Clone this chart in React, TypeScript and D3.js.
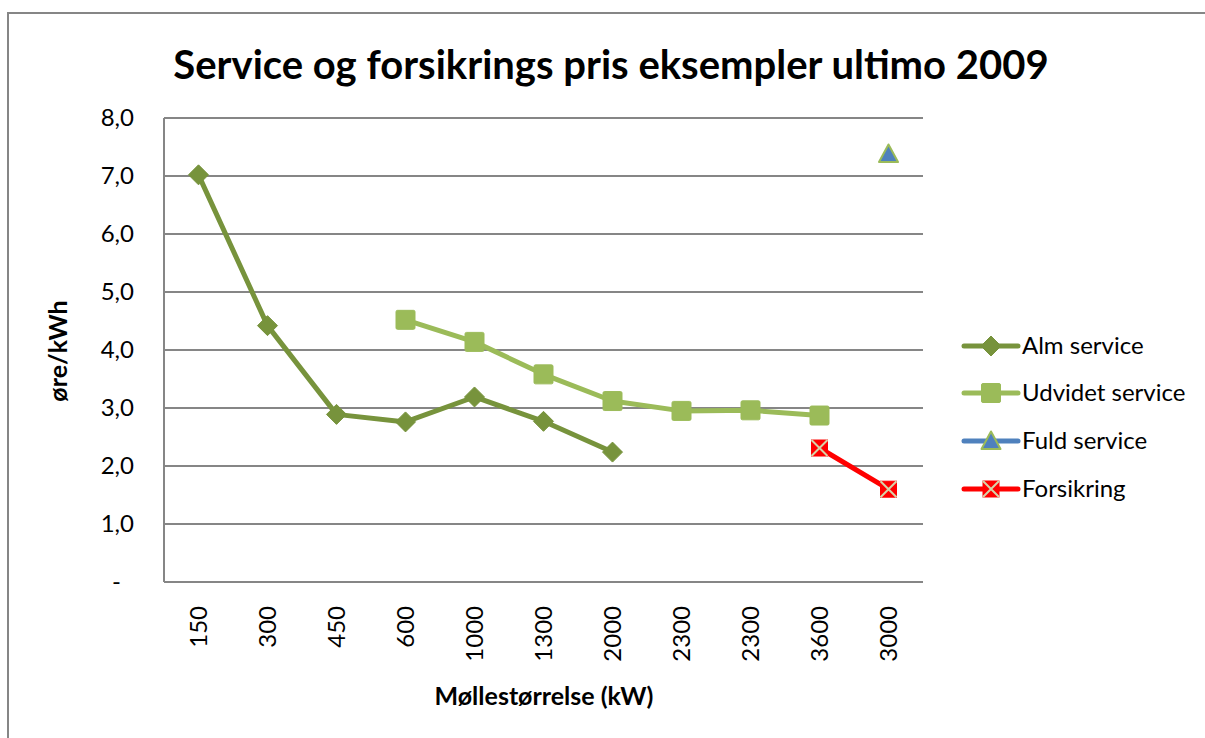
import React from "react";
import * as d3 from "d3";

const categories = ["150", "300", "450", "600", "1000", "1300", "2000", "2300", "2300b", "3600", "3000"];
const categoryLabels = ["150", "300", "450", "600", "1000", "1300", "2000", "2300", "2300", "3600", "3000"];
const almService: (number | null)[] = [7.02, 4.42, 2.89, 2.76, 3.19, 2.77, 2.24, null, null, null, null];
const udvidetService: (number | null)[] = [null, null, null, 4.52, 4.14, 3.58, 3.12, 2.95, 2.96, 2.87, null];
const fuldService: (number | null)[] = [null, null, null, null, null, null, null, null, null, null, 7.38];
const forsikring: (number | null)[] = [null, null, null, null, null, null, null, null, null, 2.31, 1.6];
const yTicks = [0, 1, 2, 3, 4, 5, 6, 7, 8];

const FONT = "Lato, 'Open Sans', sans-serif";

type Series = { name: string; values: (number | null)[]; color: string; marker: string };
const series: Series[] = [
  { name: "Alm service", values: almService, color: "#77933C", marker: "diamond" },
  { name: "Udvidet service", values: udvidetService, color: "#9BBB59", marker: "square" },
  { name: "Fuld service", values: fuldService, color: "#4F81BD", marker: "triangle" },
  { name: "Forsikring", values: forsikring, color: "#FF0000", marker: "x" },
];

function Marker({ type, x, y }: { type: string; x: number; y: number }) {
  if (type === "diamond") {
    const r = 10;
    return <path d={`M${x},${y - r}L${x + r},${y}L${x},${y + r}L${x - r},${y}Z`} fill="#77933C" stroke="#77933C" strokeWidth={1} />;
  }
  if (type === "square") {
    const r = 9.5;
    return <rect x={x - r} y={y - r} width={2 * r} height={2 * r} rx={1.5} fill="#9BBB59" stroke="#9BBB59" strokeWidth={1} />;
  }
  if (type === "triangle") {
    const r = 9.5;
    return <path d={`M${x},${y - r}L${x + r},${y + r * 0.85}L${x - r},${y + r * 0.85}Z`} fill="#4F81BD" stroke="#9BBB59" strokeWidth={2} strokeLinejoin="round" />;
  }
  const r = 8;
  return (
    <g>
      <rect x={x - r} y={y - r} width={2 * r} height={2 * r} fill="#FF0000" stroke="#FF0000" strokeWidth={1} />
      <path d={`M${x - r},${y - r}L${x + r},${y + r}M${x + r},${y - r}L${x - r},${y + r}`} stroke="#D6D3A8" strokeWidth={2} />
    </g>
  );
}

export default function App() {
  const W = 1205, H = 738;
  const left = 164, right = 923, top = 118, bottom = 582;
  const x = d3.scaleBand<string>().domain(categories).range([left, right]);
  const y = d3.scaleLinear().domain([0, 8]).range([bottom, top]);
  const cx = (i: number) => (x(categories[i]) as number) + x.bandwidth() / 2;

  const line = d3
    .line<number | null>()
    .defined((d) => d !== null)
    .x((_, i) => cx(i))
    .y((d) => y(d as number));

  const legendY = [346, 393, 441, 489];

  return (
    <svg width={W} height={H} style={{ position: "absolute", left: 0, top: 0 }} fontFamily={FONT}>
      <rect x={0} y={0} width={W} height={H} fill="#fff" />
      <rect x={8} y={13} width={W + 20} height={H + 20} fill="#fff" stroke="#868686" strokeWidth={2} />
      <text x={611} y={79} textAnchor="middle" fontSize={40} fontWeight="bold" fill="#000">
        Service og forsikrings pris eksempler ultimo 2009
      </text>
      {yTicks.slice(1).map((t) => (
        <line key={t} x1={left} x2={right} y1={y(t)} y2={y(t)} stroke="#868686" strokeWidth={2} />
      ))}
      <line x1={left} x2={left} y1={top} y2={bottom} stroke="#868686" strokeWidth={2} />
      <line x1={left} x2={right} y1={bottom} y2={bottom} stroke="#868686" strokeWidth={2} />
      {yTicks.map((t) => (
        <text key={t} x={t === 0 ? 121 : 134} y={y(t)} dy="0.35em" textAnchor="end" fontSize={24} fill="#000">
          {t === 0 ? "-" : d3.format(".1f")(t).replace(".", ",")}
        </text>
      ))}
      {categories.map((c, i) => (
        <text key={c} transform={`translate(${cx(i)},606) rotate(-90)`} textAnchor="end" dy="0.35em" fontSize={24} fill="#000">
          {categoryLabels[i]}
        </text>
      ))}
      <text transform="translate(67,351) rotate(-90)" textAnchor="middle" fontSize={25} fontWeight="bold" fill="#000">
        øre/kWh
      </text>
      <text x={544} y={705} textAnchor="middle" fontSize={25} fontWeight="bold" fill="#000">
        Møllestørrelse (kW)
      </text>
      {series.map((s) => (
        <g key={s.name}>
          <path d={line(s.values) || ""} fill="none" stroke={s.color} strokeWidth={5} strokeLinejoin="round" strokeLinecap="round" />
          {s.values.map((v, i) => (v === null ? null : <Marker key={i} type={s.marker} x={cx(i)} y={y(v)} />))}
        </g>
      ))}
      {series.map((s, k) => (
        <g key={s.name}>
          <line x1={964} x2={1018} y1={legendY[k]} y2={legendY[k]} stroke={s.color} strokeWidth={5} strokeLinecap="round" />
          <Marker type={s.marker} x={991} y={legendY[k]} />
          <text x={1022} y={legendY[k]} dy="0.35em" fontSize={24} fill="#000">
            {s.name}
          </text>
        </g>
      ))}
    </svg>
  );
}
